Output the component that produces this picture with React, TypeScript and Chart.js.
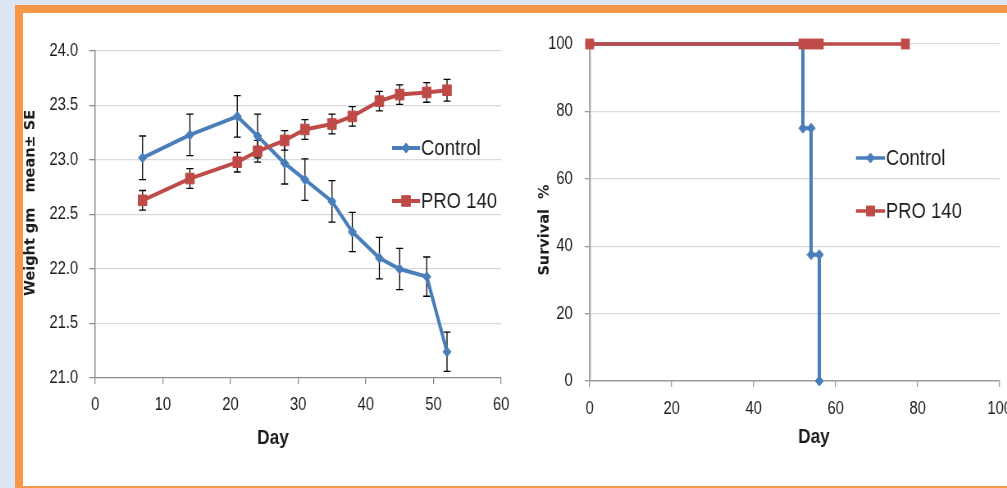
import React, { useEffect, useRef } from "react";
import { Chart, registerables } from "chart.js";

Chart.register(...registerables);

// ---------- Data: weight chart ----------
const weightDays = [7, 14, 21, 24, 28, 31, 35, 38, 42, 45, 49, 52];
const controlWeight = [23.02, 23.23, 23.4, 23.22, 22.97, 22.82, 22.62, 22.34, 22.1, 22.0, 21.93, 21.24];
const controlSE = [0.2, 0.19, 0.19, 0.2, 0.19, 0.19, 0.19, 0.18, 0.19, 0.19, 0.18, 0.18];
const proWeight = [22.63, 22.83, 22.98, 23.08, 23.18, 23.28, 23.33, 23.4, 23.54, 23.6, 23.62, 23.64];
const proSE = [0.09, 0.09, 0.09, 0.1, 0.09, 0.09, 0.09, 0.09, 0.09, 0.09, 0.09, 0.1];
const weightYTicks = [21.0, 21.5, 22.0, 22.5, 23.0, 23.5, 24.0];
const weightXTicks = [0, 10, 20, 30, 40, 50, 60];

// ---------- Data: survival chart ----------
const survivalDaysControl = [0, 52, 52, 54, 54, 56, 56];
const survivalControl = [100, 100, 75, 75, 37.5, 37.5, 0];
const survivalDaysPro = [0, 52, 54, 56, 77];
const survivalPro = [100, 100, 100, 100, 100];
const survivalYTicks = [0, 20, 40, 60, 80, 100];
const survivalXTicks = [0, 20, 40, 60, 80, 100];

const seriesNames = ["Control", "PRO 140"];

const BLUE = "#4a7ebb";
const RED = "#be4b48";
const SANS = "'Liberation Sans', Arial, sans-serif";
const WIDE_BOLD = "'DejaVu Sans', Verdana, sans-serif";
const TEXT = "#1c1c1c";

// The picture is horizontally condensed: canvases are drawn wider and shown narrower.
const S = 0.82;
const h = (v: number) => v / S;

function drawMarker(ctx: CanvasRenderingContext2D, style: string, x: number, y: number, r: number, color: string) {
  ctx.save();
  ctx.fillStyle = color;
  ctx.strokeStyle = color;
  ctx.lineWidth = 1;
  ctx.beginPath();
  if (style === "rectRot") {
    ctx.moveTo(x - r, y);
    ctx.lineTo(x, y - r);
    ctx.lineTo(x + r, y);
    ctx.lineTo(x, y + r);
    ctx.closePath();
  } else {
    const s = Math.SQRT1_2 * r;
    ctx.rect(x - s, y - s, 2 * s, 2 * s);
  }
  ctx.fill();
  ctx.stroke();
  ctx.restore();
}

type Title = { text: string; x: number; y: number; rot: boolean; font: string };
type LegendRow = { y: number; label: string; color: string; style: string; r: number };
type OverlayCfg = { titles: Title[]; x0: number; x1: number; tx: number; lw: number; rows: LegendRow[] };

function makeOverlay(cfg: OverlayCfg) {
  return {
    id: "overlay",
    afterDraw(chart: any) {
      const ctx: CanvasRenderingContext2D = chart.ctx;
      ctx.save();
      ctx.fillStyle = TEXT;
      ctx.textAlign = "center";
      ctx.textBaseline = "middle";
      for (const t of cfg.titles) {
        ctx.save();
        ctx.font = t.font;
        ctx.translate(t.x, t.y);
        if (t.rot) {
          ctx.scale(1 / S, 1);
          ctx.rotate(-Math.PI / 2);
        }
        ctx.fillText(t.text, 0, 0);
        ctx.restore();
      }
      for (const row of cfg.rows) {
        ctx.strokeStyle = row.color;
        ctx.lineWidth = cfg.lw;
        ctx.beginPath();
        ctx.moveTo(cfg.x0, row.y);
        ctx.lineTo(cfg.x1, row.y);
        ctx.stroke();
        drawMarker(ctx, row.style, (cfg.x0 + cfg.x1) / 2, row.y, row.r, row.color);
        ctx.fillStyle = TEXT;
        ctx.font = `22.5px ${SANS}`;
        ctx.textAlign = "left";
        ctx.fillText(row.label, cfg.tx, row.y + 1);
      }
      ctx.restore();
    },
  };
}

const errorBars = {
  id: "errorBars",
  beforeDatasetsDraw(chart: any) {
    const { ctx, scales } = chart;
    const xs = scales.x;
    const ys = scales.y;
    const cap = h(3.5);
    ctx.save();
    ctx.strokeStyle = "#000";
    ctx.lineWidth = 1.3;
    chart.data.datasets.forEach((ds: any) => {
      const errs: number[] | undefined = ds.errors;
      if (!errs) return;
      ds.data.forEach((p: any, i: number) => {
        const px = xs.getPixelForValue(p.x);
        const top = ys.getPixelForValue(p.y + errs[i]);
        const bot = ys.getPixelForValue(p.y - errs[i]);
        ctx.beginPath();
        ctx.moveTo(px, top);
        ctx.lineTo(px, bot);
        ctx.moveTo(px - cap, top);
        ctx.lineTo(px + cap, top);
        ctx.moveTo(px - cap, bot);
        ctx.lineTo(px + cap, bot);
        ctx.stroke();
      });
    });
    ctx.restore();
  },
};

const tickFont = { family: SANS, size: 18 };

function fixedTicks(values: number[]) {
  return (s: any) => {
    s.ticks = values.map((v) => ({ value: v }));
  };
}

const LEFT_W = 497;
const RIGHT_W = 510;
const CANVAS_H = 473;

export default function App() {
  const leftRef = useRef<HTMLCanvasElement>(null);
  const rightRef = useRef<HTMLCanvasElement>(null);

  useEffect(() => {
    const leftInner = Math.round(h(LEFT_W));
    const rightInner = Math.round(h(RIGHT_W));

    const left = new Chart(leftRef.current as HTMLCanvasElement, {
      type: "line",
      data: {
        datasets: [
          {
            label: seriesNames[0],
            data: weightDays.map((d, i) => ({ x: d, y: controlWeight[i] })),
            errors: controlSE,
            borderColor: BLUE,
            backgroundColor: BLUE,
            borderWidth: 4,
            pointStyle: "rectRot",
            pointRadius: 5,
            pointBorderWidth: 1,
            tension: 0,
            clip: false,
            order: 2,
          } as any,
          {
            label: seriesNames[1],
            data: weightDays.map((d, i) => ({ x: d, y: proWeight[i] })),
            errors: proSE,
            borderColor: RED,
            backgroundColor: RED,
            borderWidth: 4,
            pointStyle: "rect",
            pointRadius: 7.5,
            pointBorderWidth: 1,
            tension: 0,
            clip: false,
            order: 1,
          } as any,
        ],
      },
      options: {
        responsive: false,
        animation: false,
        layout: { padding: { left: 0, top: 38, right: leftInner - Math.round(h(478)), bottom: 48 } },
        plugins: { legend: { display: false }, tooltip: { enabled: false } },
        scales: {
          x: {
            type: "linear",
            min: 0,
            max: 60,
            afterBuildTicks: fixedTicks(weightXTicks),
            afterFit: (s: any) => {
              s.height = 60;
            },
            grid: { drawOnChartArea: false, drawTicks: true, tickLength: 6, tickColor: "#8c8c8c", lineWidth: 1.3 },
            border: { color: "#8c8c8c", width: 1.3 },
            ticks: { padding: 10, font: tickFont, color: TEXT },
          },
          y: {
            type: "linear",
            min: 21,
            max: 24,
            afterBuildTicks: fixedTicks(weightYTicks),
            afterFit: (s: any) => {
              s.width = Math.round(h(72));
            },
            grid: {
              color: (c: any) => (c.tick && c.tick.value === 21 ? "rgba(0,0,0,0)" : "#d9d9d9"),
              lineWidth: 1.3,
              drawTicks: true,
              tickLength: h(6),
              tickColor: "#8c8c8c",
            },
            border: { color: "#8c8c8c", width: 1.5 },
            ticks: { padding: h(11), font: tickFont, color: TEXT, callback: (v: any) => Number(v).toFixed(1) },
          },
        },
      },
      plugins: [
        errorBars,
        makeOverlay({
          titles: [
            { text: "Day", x: h(250), y: 425, rot: false, font: `bold 21px ${SANS}` },
            { text: "Weight gm   mean\u00B1 SE", x: h(8), y: 190, rot: true, font: `bold 14.5px ${WIDE_BOLD}` },
          ],
          x0: h(369),
          x1: h(397),
          tx: h(398),
          lw: 4,
          rows: [
            { y: 135, label: seriesNames[0], color: BLUE, style: "rectRot", r: 5 },
            { y: 188, label: seriesNames[1], color: RED, style: "rect", r: 7.5 },
          ],
        }),
      ],
    } as any);

    const right = new Chart(rightRef.current as HTMLCanvasElement, {
      type: "line",
      data: {
        datasets: [
          {
            label: seriesNames[0],
            data: survivalDaysControl.map((d, i) => ({ x: d, y: survivalControl[i] })),
            borderColor: BLUE,
            backgroundColor: BLUE,
            borderWidth: 4,
            pointStyle: "rectRot",
            pointRadius: 5,
            pointBorderWidth: 1,
            tension: 0,
            clip: false,
            order: 2,
          } as any,
          {
            label: seriesNames[1],
            data: survivalDaysPro.map((d, i) => ({ x: d, y: survivalPro[i] })),
            borderColor: RED,
            backgroundColor: RED,
            borderWidth: 3.5,
            pointStyle: "rect",
            pointRadius: 7,
            pointBorderWidth: 1,
            tension: 0,
            clip: false,
            order: 1,
          } as any,
        ],
      },
      options: {
        responsive: false,
        animation: false,
        layout: { padding: { left: 0, top: 31, right: rightInner - Math.round(h(480)), bottom: 45 } },
        plugins: { legend: { display: false }, tooltip: { enabled: false } },
        scales: {
          x: {
            type: "linear",
            min: 0,
            max: 100,
            afterBuildTicks: fixedTicks(survivalXTicks),
            afterFit: (s: any) => {
              s.height = 60;
            },
            grid: { drawOnChartArea: false, drawTicks: true, tickLength: 6, tickColor: "#9a9a9a", lineWidth: 1.3 },
            border: { color: "#9a9a9a", width: 1.5 },
            ticks: { padding: 11, font: tickFont, color: TEXT },
          },
          y: {
            type: "linear",
            min: 0,
            max: 100,
            afterBuildTicks: fixedTicks(survivalYTicks),
            afterFit: (s: any) => {
              s.width = Math.round(h(70));
            },
            grid: {
              color: (c: any) => (c.tick && c.tick.value === 0 ? "rgba(0,0,0,0)" : "#d9d9d9"),
              lineWidth: 1.3,
              drawTicks: true,
              tickLength: h(5),
              tickColor: "#9a9a9a",
            },
            border: { color: "#a8a8a8", width: 2.4 },
            ticks: { padding: h(12), font: tickFont, color: TEXT },
          },
        },
      },
      plugins: [
        makeOverlay({
          titles: [
            { text: "Day", x: h(294), y: 424, rot: false, font: `bold 21px ${SANS}` },
            { text: "Survival  %", x: h(25), y: 217, rot: true, font: `bold 14.5px ${WIDE_BOLD}` },
          ],
          x0: h(336),
          x1: h(365),
          tx: h(366),
          lw: 3.5,
          rows: [
            { y: 145, label: seriesNames[0], color: BLUE, style: "rectRot", r: 5 },
            { y: 198, label: seriesNames[1], color: RED, style: "rect", r: 7 },
          ],
        }),
      ],
    } as any);

    return () => {
      left.destroy();
      right.destroy();
    };
  }, []);

  return (
    <div
      style={{
        position: "fixed",
        left: 0,
        top: 0,
        width: 1007,
        height: 488,
        overflow: "hidden",
        background: "#dce6f2",
      }}
    >
      <div
        style={{
          position: "absolute",
          left: 15,
          top: 5,
          width: 1100,
          height: 473,
          background: "#ffffff",
          borderLeft: "8px solid #f79646",
          borderTop: "8px solid #f79646",
          borderBottom: "2px solid #f79646",
        }}
      />
      <canvas
        ref={leftRef}
        width={Math.round(h(LEFT_W))}
        height={CANVAS_H}
        style={{ position: "absolute", left: 23, top: 13, width: LEFT_W, height: CANVAS_H }}
      />
      <canvas
        ref={rightRef}
        width={Math.round(h(RIGHT_W))}
        height={CANVAS_H}
        style={{ position: "absolute", left: 520, top: 13, width: RIGHT_W, height: CANVAS_H }}
      />
    </div>
  );
}
